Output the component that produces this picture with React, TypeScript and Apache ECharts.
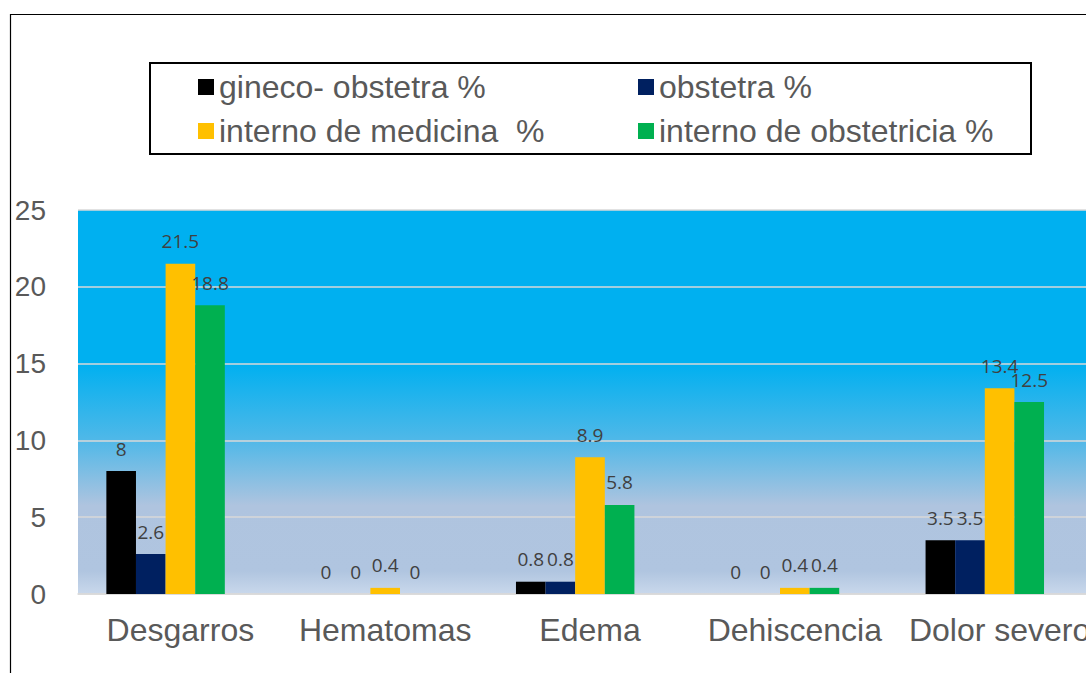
import React, { useEffect, useRef } from "react";
import * as echarts from "echarts";

const categories = ["Desgarros", "Hematomas", "Edema", "Dehiscencia", "Dolor severo"];
const seriesNames = ["gineco- obstetra %", "obstetra %", "interno de medicina  %", "interno de obstetricia %"];
const ginecoObstetra = [8, 0, 0.8, 0, 3.5];
const obstetra = [2.6, 0, 0.8, 0, 3.5];
const internoMedicina = [21.5, 0.4, 8.9, 0.4, 13.4];
const internoObstetricia = [18.8, 0, 5.8, 0.4, 12.5];
// the source chart keeps an empty fifth series slot in each category
const emptySeries: number[] = [];
const seriesColors = ["#000000", "#002060", "#FFC000", "#00B050"];
const yTicks = { min: 0, max: 25, interval: 5 };

export default function App() {
  const ref = useRef<HTMLDivElement>(null);
  useEffect(() => {
    if (!ref.current) return;
    const chart = echarts.init(ref.current, null, { renderer: "svg" });
    const values = [ginecoObstetra, obstetra, internoMedicina, internoObstetricia];
    const font = "'Liberation Sans', Arial, sans-serif";
    const labelStyle = {
      show: true,
      position: "top",
      distance: 13,
      fontFamily: "'Open Sans', sans-serif",
      fontSize: 19,
      color: "#404040",
    };
    chart.setOption({
      animation: false,
      backgroundColor: "#ffffff",
      textStyle: { fontFamily: font },
      grid: {
        left: 78,
        top: 210,
        right: 0,
        bottom: 79,
        show: true,
        borderWidth: 0,
        backgroundColor: new echarts.graphic.LinearGradient(0, 0, 0, 1, [
          { offset: 0, color: "#00B0F0" },
          { offset: 0.4, color: "#00B0F0" },
          { offset: 0.6, color: "#50B8E8" },
          { offset: 0.77, color: "#AFC4DF" },
          { offset: 0.94, color: "#B0C5E0" },
          { offset: 1, color: "#C9D8EB" },
        ]),
      },
      legend: {
        left: 198,
        top: 70,
        padding: 0,
        width: 900,
        itemWidth: 16,
        itemHeight: 16,
        itemGap: 10,
        icon: "rect",
        selectedMode: false,
        textStyle: {
          fontFamily: font,
          fontSize: 32,
          color: "#595959",
          width: 409,
          lineHeight: 34,
        },
        data: seriesNames,
      },
      graphic: [
        {
          type: "rect",
          shape: { x: 10.5, y: 14.5, width: 1300, height: 900 },
          style: { fill: "none", stroke: "#000", lineWidth: 1.2 },
          silent: true,
          z: 100,
        },
        {
          type: "rect",
          shape: { x: 150, y: 63, width: 881, height: 91 },
          style: { fill: "none", stroke: "#000", lineWidth: 2 },
          silent: true,
          z: 100,
        },
      ],
      xAxis: {
        type: "category",
        data: categories,
        axisLine: { show: true, lineStyle: { color: "#D9D9D9", width: 1.5 } },
        axisTick: { show: false },
        axisLabel: { interval: 0, fontFamily: font, fontSize: 32, color: "#595959", margin: 20 },
      },
      yAxis: {
        type: "value",
        min: yTicks.min,
        max: yTicks.max,
        interval: yTicks.interval,
        axisLine: { show: false },
        axisTick: { show: false },
        splitLine: { lineStyle: { color: "#D9D9D9", width: 1.5 } },
        axisLabel: { fontFamily: font, fontSize: 28, color: "#595959", margin: 32 },
      },
      series: [
        ...seriesNames.map((name, i) => ({
          name,
          type: "bar",
          data: values[i],
          barGap: "0%",
          barCategoryGap: "27.7%",
          itemStyle: { color: seriesColors[i] },
          label: labelStyle,
        })),
        {
          name: "",
          type: "bar",
          data: emptySeries,
          barGap: "0%",
          barCategoryGap: "27.7%",
        },
      ],
    });
    return () => chart.dispose();
  }, []);
  return (
    <div
      ref={ref}
      style={{ position: "fixed", left: 0, top: 0, width: 1102, height: 673 }}
    />
  );
}
